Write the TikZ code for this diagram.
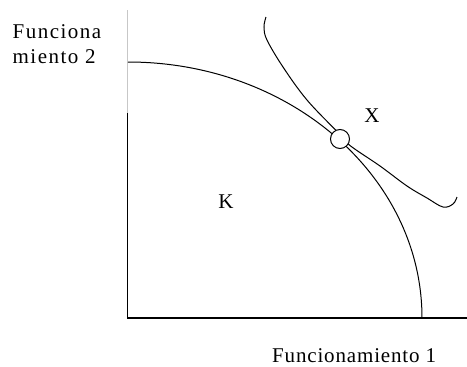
\documentclass[tikz,border=0pt]{standalone}
\usepackage{fontspec}
\setmainfont{Liberation Serif}
\newfontfamily\spacedA[LetterSpace=7]{Liberation Serif}
\newfontfamily\spacedB[LetterSpace=4]{Liberation Serif}
\begin{document}
\begin{tikzpicture}[x=1pt,y=-1pt,
  lbl/.style={inner sep=0pt,font=\fontsize{21}{25}\selectfont},
  curve/.style={line width=1pt,black},
  axis/.style={line width=1.1pt,black}]
\useasboundingbox (0,0) rectangle (467,367);
% labels
\node[lbl,anchor=base west] (f2a) at (12.5,38) {\spacedA Funciona};
\node[lbl,anchor=base west] (f2b) at (12.5,63) {\spacedA miento 2};
\node[lbl,anchor=base west] (f1) at (272,362) {\spacedB Funcionamiento 1};
\node[lbl] (K) at (226,202) {K};
\node[lbl] (X) at (372,115.5) {X};
% axes
\coordinate (top) at (127.5,10);
\coordinate (mid) at (127.5,113);
\coordinate (origin) at (127.5,318);
\coordinate (xend) at (467,318);
\draw[line width=0.8pt,black!22] (top) -- (mid);
\draw[axis] (mid) -- (origin) -- (xend);
% production possibility frontier
\draw[curve] (128,62) arc[start angle=-90,end angle=0,x radius=294,y radius=256];
% indifference curve
\draw[curve] plot[smooth,tension=0.6] coordinates {(266,17) (264,27) (267,40) (283,67) (307,100) (339,133.5) (350,145.5) (380,166) (407,186) (427,198) (443,207) (453,204) (457,197)};
% tangent point
\node[circle,draw,line width=1pt,fill=white,minimum size=19pt,inner sep=0pt] (P) at (340,139) {};
\end{tikzpicture}
\end{document}
